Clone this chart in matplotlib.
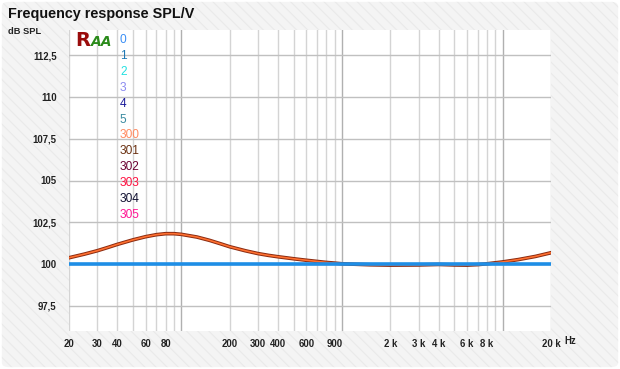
import numpy as np
import matplotlib
matplotlib.use("Agg")
import matplotlib.pyplot as plt
from matplotlib.patches import FancyBboxPatch
from matplotlib.ticker import FixedLocator, NullFormatter

# Данные
freq = [20, 25, 30, 35, 40, 50, 60, 70, 80, 90, 100, 125, 150, 175, 200, 250, 300,
        350, 400, 500, 600, 700, 800, 900, 1000, 1500, 2000, 3000, 4000, 5000, 6000,
        7000, 8000, 10000, 12500, 16000, 20000]
spl_300 = [100.38, 100.6, 100.8, 101.0, 101.18, 101.45, 101.64, 101.76, 101.82, 101.82,
           101.78, 101.62, 101.42, 101.22, 101.04, 100.8, 100.63,
           100.52, 100.44, 100.32, 100.23, 100.16, 100.1, 100.06, 100.02, 99.96, 99.94,
           99.95, 99.98, 99.95, 99.94, 99.97, 100.02, 100.13, 100.27, 100.46, 100.68]
spl_flat = [100.0] * len(freq)

legend_names = ['0', '1', '2', '3', '4', '5', '300', '301', '302', '303', '304', '305']
legend_colors = ['#3a8ef5', '#1f78b4', '#22e0e0', '#8a8af0', '#1a1a9a', '#3a8aa0',
                 '#ff8a60', '#6a3010', '#6a0030', '#ff1040', '#101030', '#ff1493']

yticks = [97.5, 100, 102.5, 105, 107.5, 110, 112.5]
ytick_labels = ['97,5', '100', '102,5', '105', '107,5', '110', '112,5']
xticks = [20, 30, 40, 60, 80, 200, 300, 400, 600, 900, 2000, 3000, 4000, 6000, 8000, 20000]
xtick_labels = ['20', '30', '40', '60', '80', '200', '300', '400', '600', '900',
                '2 k', '3 k', '4 k', '6 k', '8 k', '20 k']

minor_grid = [20, 30, 40, 50, 60, 70, 80, 90, 200, 300, 400, 500, 600, 700, 800, 900,
              2000, 3000, 4000, 5000, 6000, 7000, 8000, 9000, 20000]
major_grid = [100, 1000, 10000]

plt.rcParams['hatch.linewidth'] = 0.8
lab_font = ['Liberation Sans', 'DejaVu Sans']
leg_font = ['Liberation Sans Narrow', 'Liberation Sans', 'DejaVu Sans']

fig = plt.figure(figsize=(6.2, 3.69), dpi=100)
fig.patch.set_facecolor('white')

# фон с диагональной штриховкой
bg = FancyBboxPatch((0.003, 0.005), 0.994, 0.99, boxstyle="round,pad=0,rounding_size=0.012",
                    transform=fig.transFigure, facecolor='#f4f4f4', edgecolor='#eaeaea',
                    hatch='\\\\\\', linewidth=0, zorder=-10)
fig.patches.append(bg)

ax = fig.add_axes([69/620, 1 - 331/369, 482/620, 301/369])
ax.set_facecolor('white')
ax.set_xscale('log')
ax.set_xlim(20, 20000)
ax.set_ylim(96, 114)

for f in minor_grid:
    ax.axvline(f, color='#d4d4d4', lw=1, zorder=1)
for f in major_grid:
    ax.axvline(f, color='#b0b0b0', lw=1, zorder=1)
for y in yticks:
    ax.axhline(y, color='#c0c0c0', lw=1, zorder=1)

# кривые
ax.plot(freq, spl_300, color='#8a2a10', lw=2.6, zorder=3, solid_joinstyle='round')
ax.plot(freq, spl_300, color='#ff7030', lw=1.2, zorder=4, solid_joinstyle='round')
ax.plot(freq, spl_flat, color='#1e8ee6', lw=2.6, zorder=5)

for s in ax.spines.values():
    s.set_visible(False)

ax.xaxis.set_major_locator(FixedLocator(xticks))
ax.set_xticklabels(xtick_labels)
ax.xaxis.set_minor_formatter(NullFormatter())
ax.set_yticks(yticks)
ax.set_yticklabels(ytick_labels)
ax.tick_params(axis='both', length=0, labelsize=6.9, labelcolor='#222222')
ax.tick_params(axis='x', which='minor', length=0)
ax.tick_params(axis='x', pad=6)
ax.tick_params(axis='y', pad=9)
for lab in ax.get_xticklabels() + ax.get_yticklabels():
    lab.set_fontweight('bold')
    lab.set_family(lab_font)

# легенда
for i, (name, col) in enumerate(zip(legend_names, legend_colors)):
    ax.text(120/620, 1 - (40 + i * 15.9)/369, name, transform=fig.transFigure,
            color=col, fontsize=8.6, va='center', ha='left', zorder=6, family=leg_font)

# логотип
fig.text(75/620, 1 - 41/369, 'R', color='#9a0c0c', fontsize=14, fontweight='bold',
         va='center', ha='left')
fig.text(91/620, 1 - 42/369, 'AA', color='#2a8a1a', fontsize=10, fontweight='bold',
         va='center', ha='left', style='italic')

fig.text(8/620, 1 - 14/369, 'Frequency response SPL/V', fontsize=10.4, fontweight='bold',
         color='#111111', va='center', ha='left', family=lab_font)
fig.text(8/620, 1 - 31/369, 'dB SPL', fontsize=6.7, fontweight='bold',
         color='#222222', va='center', ha='left', family=lab_font)
fig.text(570/620, 1 - 341/369, 'Hz', fontsize=6.9, fontweight='bold',
         color='#222222', va='center', ha='center', family=lab_font)

fig.savefig('out.png', dpi=100, facecolor=fig.get_facecolor())
